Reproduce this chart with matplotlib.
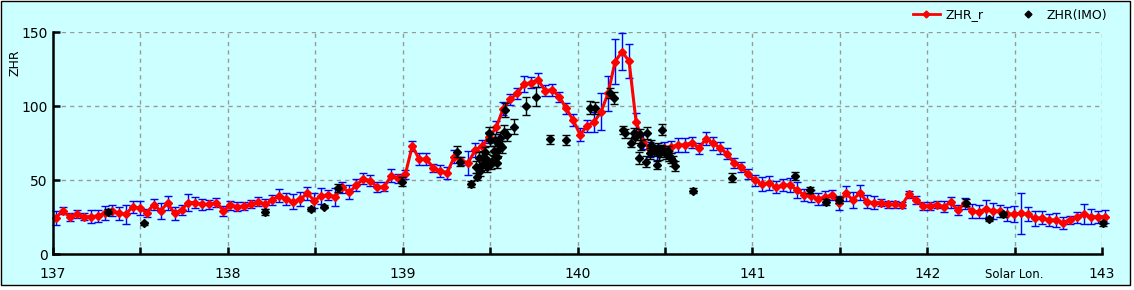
import numpy as np
import matplotlib
matplotlib.use('Agg')
import matplotlib.pyplot as plt
from matplotlib.patches import Rectangle
from matplotlib.lines import Line2D
from matplotlib.ticker import MultipleLocator, FuncFormatter

# ZHR_r: regular grid in solar longitude (step 0.04 deg)
lon_start = 137.015
lon_step = 0.04
zhr_r = [24.5, 29.5, 25.4, 27.2, 25.4, 25.4, 25.9, 27.7, 29.5, 27.7,
         27.0, 32.0, 31.3, 28.1, 33.5, 29.5, 34.4, 27.7, 30.0, 35.0,
         34.9, 33.7, 33.7, 34.9, 29.5, 33.0, 32.2, 32.6, 33.9, 35.5,
         33.7, 36.7, 39.6, 37.3, 35.5, 37.3, 41.2, 36.2, 39.6, 40.1,
         38.9, 45.2, 41.8, 46.8, 50.9, 49.8, 45.2, 45.7, 53.1, 51.3,
         54.0, 73.2, 64.2, 64.4, 58.5, 56.3, 55.1, 65.9, 63.0, 61.9,
         70.5, 73.2, 79.0, 85.8, 98.4, 104.7, 108.7, 115.1, 116.0, 117.8,
         110.6, 111.1, 106.6, 98.6, 90.7, 80.8, 86.7, 89.4, 96.4, 108.8,
         130.2, 136.9, 130.5, 89.6, 76.0, 71.0, 69.0, 71.6, 72.7, 73.8,
         74.0, 75.5, 71.6, 78.2, 75.0, 71.9, 67.9, 61.7, 59.2, 54.2,
         50.0, 47.5, 48.4, 45.2, 46.8, 46.8, 43.4, 40.1, 39.4, 37.4,
         38.5, 40.1, 34.4, 41.2, 36.7, 41.6, 35.5, 34.9, 34.9, 33.7,
         33.7, 33.3, 40.5, 36.7, 32.8, 32.8, 33.5, 32.2, 35.1, 29.9,
         34.4, 29.2, 28.7, 30.6, 29.2, 29.2, 27.2, 27.2, 27.7, 27.2,
         24.3, 24.7, 23.2, 23.2, 21.4, 23.2, 24.9, 27.2, 25.4, 25.4,
         25.4]
err_r = [4.7, 2.3, 2.8, 2.6, 2.3, 4.3, 4.0, 4.8, 3.6, 4.5,
         6.4, 4.2, 4.8, 2.6, 3.6, 5.4, 4.7, 4.2, 3.4, 5.5,
         3.7, 3.6, 3.0, 3.0, 3.4, 2.8, 3.0, 3.0, 2.8, 2.9,
         3.4, 3.6, 4.5, 3.9, 5.0, 4.5, 4.3, 5.0, 5.3, 3.4,
         6.0, 3.9, 4.7, 4.2, 3.7, 3.7, 3.4, 3.0, 4.2, 2.8,
         3.2, 3.2, 4.0, 4.3, 2.8, 3.9, 3.9, 4.5, 2.8, 8.0,
         4.5, 4.3, 3.9, 4.5, 4.2, 3.9, 3.7, 5.3, 3.7, 5.0,
         3.9, 4.3, 3.4, 3.9, 4.0, 4.5, 3.9, 6.8, 12.7, 11.8,
         15.0, 12.4, 11.5, 6.0, 5.0, 5.0, 5.0, 4.0, 4.0, 4.5,
         4.7, 3.8, 3.7, 4.5, 4.3, 4.0, 3.6, 3.4, 3.4, 3.4,
         3.9, 4.7, 4.7, 4.0, 4.3, 4.8, 5.2, 4.2, 4.3, 4.3,
         4.5, 3.4, 4.7, 5.0, 5.5, 5.0, 4.5, 4.3, 2.5, 2.6,
         2.3, 2.3, 2.5, 2.9, 2.6, 2.6, 2.3, 3.6, 3.6, 3.4,
         3.6, 5.0, 4.5, 6.0, 5.4, 4.2, 4.7, 5.3, 14.0, 4.8,
         5.0, 4.5, 4.3, 4.5, 4.0, 2.6, 3.6, 6.6, 5.0, 4.0,
         4.5]
lon_r = lon_start + lon_step * np.arange(len(zhr_r))

# ZHR(IMO)
imo_lon = [137.316, 137.520, 138.212, 138.475, 138.548, 138.628, 138.995,
           139.312, 139.327, 139.390, 139.418, 139.426, 139.437, 139.445,
           139.451, 139.460, 139.470, 139.476, 139.483, 139.495, 139.500,
           139.505, 139.514, 139.520, 139.527, 139.537, 139.540, 139.546,
           139.550, 139.556, 139.566, 139.579, 139.584, 139.597, 139.636,
           139.704, 139.762, 139.842, 139.937, 140.070, 140.100, 140.185,
           140.208, 140.261, 140.270, 140.305, 140.322, 140.330, 140.350,
           140.356, 140.366, 140.389, 140.398, 140.413, 140.420, 140.435,
           140.452, 140.458, 140.466, 140.475, 140.486, 140.495, 140.505,
           140.515, 140.525, 140.535, 140.545, 140.556, 140.661, 140.886,
           141.242, 141.328, 141.420, 141.496, 142.224, 142.351, 142.433,
           143.005]
imo_zhr = [28.8, 20.9, 28.8, 30.6, 32.2, 44.8, 48.9,
           69.3, 62.6, 47.5, 58.8, 52.4, 64.8, 56.5,
           60.3, 66.0, 69.0, 64.2, 58.8, 81.8, 77.2,
           61.0, 63.7, 70.0, 77.2, 66.0, 61.5, 70.5,
           74.5, 78.4, 72.7, 82.8, 97.5, 80.6, 86.2,
           100.4, 106.5, 77.7, 77.2, 99.1, 99.1, 108.8,
           105.4, 84.0, 81.8, 75.5, 81.8, 79.0, 64.9,
           81.0, 73.9, 62.6, 82.2, 68.2, 74.0, 70.0,
           60.3, 72.0, 67.5, 70.5, 84.3, 69.5, 68.0,
           70.0, 66.5, 65.0, 63.0, 59.5, 43.0, 51.8,
           52.9, 43.4, 35.5, 36.7, 34.9, 23.8, 27.0,
           20.9]
imo_err = [1.7, 1.0, 2.0, 1.2, 1.2, 3.0, 3.0,
           3.6, 3.0, 2.3, 4.0, 2.5, 4.0, 3.5,
           3.5, 4.0, 3.5, 3.5, 3.5, 4.0, 4.0,
           3.5, 3.5, 3.5, 4.0, 4.0, 3.5, 4.0,
           4.0, 4.0, 4.0, 4.5, 4.5, 4.0, 5.0,
           6.0, 6.5, 3.0, 3.5, 4.5, 4.0, 3.5,
           4.0, 3.0, 3.0, 3.0, 3.5, 3.5, 4.0,
           3.5, 3.5, 3.5, 4.0, 3.5, 3.5, 3.5,
           3.0, 3.5, 3.5, 3.5, 4.0, 3.5, 3.5,
           3.5, 3.5, 3.5, 3.5, 3.5, 1.5, 3.0,
           2.5, 2.0, 2.0, 2.0, 2.5, 1.5, 1.5,
           1.5]

bg = '#CCFFFF'
W, H = 1134, 290
fig = plt.figure(figsize=(W / 100, H / 100), dpi=100)
fig.patch.set_facecolor('white')
fig.patches.append(Rectangle((1 / W, 5 / H), 1129 / W, 284 / H, transform=fig.transFigure,
                             facecolor=bg, edgecolor='black', lw=1, zorder=-10))

ax = fig.add_axes([53 / W, (H - 254.3) / H, 1049 / W, 222 / H])
ax.set_zorder(1)
ax.set_facecolor(bg)

# error bars and lines
ax.errorbar(lon_r, zhr_r, yerr=err_r, fmt='none', ecolor='#0000FF', elinewidth=1,
            capsize=2.6, capthick=1, zorder=2, clip_on=False)
ax.plot(lon_r, zhr_r, color='#FF0000', lw=2.2, marker='D', ms=4, zorder=3, clip_on=False)
ax.errorbar(imo_lon, imo_zhr, yerr=imo_err, fmt='D', color='black', ms=4, elinewidth=1,
            capsize=2.6, capthick=1, zorder=4, clip_on=False)

ax.set_xlim(137, 143)
ax.set_ylim(0, 150)
ax.xaxis.set_major_locator(MultipleLocator(0.5))
ax.yaxis.set_major_locator(MultipleLocator(50))
ax.xaxis.set_major_formatter(FuncFormatter(lambda v, p: f'{v:.0f}' if abs(v - round(v)) < 1e-6 else ''))
ax.grid(True, color='#999999', linestyle=(0, (3, 3)), lw=1)
ax.set_axisbelow(True)

for s in ['top', 'right']:
    ax.spines[s].set_visible(False)
for s in ['left', 'bottom']:
    ax.spines[s].set_linewidth(1.8)
    ax.spines[s].set_zorder(5)
ax.tick_params(direction='in', length=5, width=1.8, labelsize=10, colors='black')
ax.tick_params(axis='x', pad=9)
ax.tick_params(axis='y', pad=4)

fig.text(15 / W, 1 - 63 / H, 'ZHR', rotation=90, ha='center', va='center', fontsize=9)
fig.text(1014 / W, 1 - 275 / H, 'Solar Lon.', ha='center', va='center', fontsize=8.5)

handles = [Line2D([], [], color='#FF0000', lw=2, marker='D', ms=3.5),
           Line2D([], [], color='black', lw=0, marker='D', ms=3.5)]
ax.legend(handles, ['ZHR_r', 'ZHR(IMO)'], loc='center', bbox_to_anchor=(1010 / W, 1 - 15 / H),
          bbox_transform=fig.transFigure, ncol=2, frameon=False, fontsize=9,
          handlelength=2.2, columnspacing=2.5, handletextpad=0.4)

fig.savefig('out.png', dpi=100, facecolor=fig.get_facecolor())
